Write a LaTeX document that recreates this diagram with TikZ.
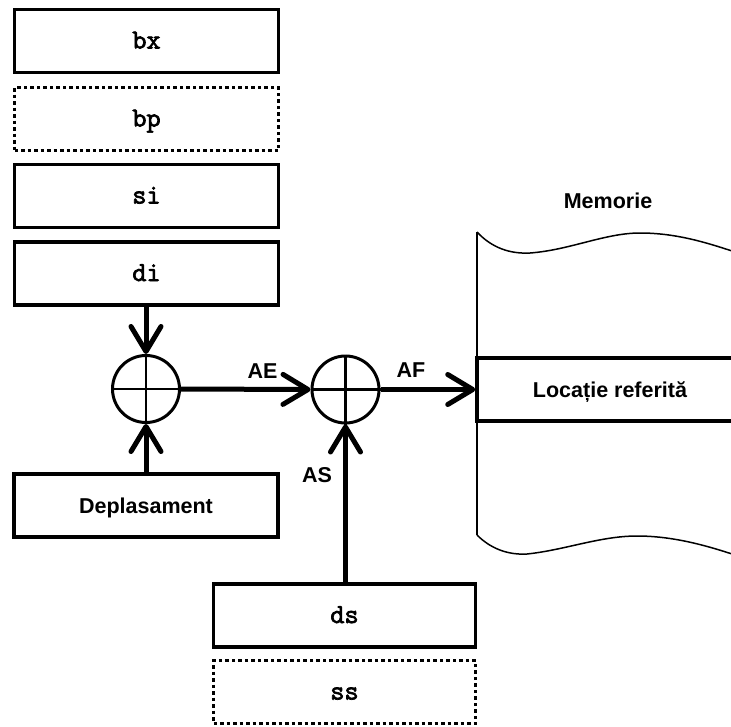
\documentclass[tikz,border=0pt]{standalone}
\usepackage{fontspec}
\setmainfont{Liberation Sans}
\newfontfamily\regfont[FakeBold=2.6]{Latin Modern Mono}
\usetikzlibrary{arrows.meta}
\begin{document}
\begin{tikzpicture}[x=1pt,y=-1pt,
  regbox/.style={draw, line width=3.5pt, minimum width=264pt, minimum height=63pt,
    inner sep=0pt, text height=15pt, text depth=0pt,
    font=\regfont\fontsize{27.5}{30}\selectfont},
  dotbox/.style={regbox, dash pattern=on 3.5pt off 3pt},
  namebox/.style={draw, fill=white, line width=3.5pt, minimum width=264pt, minimum height=63pt,
    inner sep=0pt, text height=15.5pt, text depth=0pt,
    font=\bfseries\fontsize{21.5}{24}\selectfont},
  sumnode/.style={draw, circle, line width=3pt, minimum size=67pt, inner sep=0pt},
  cross/.style={line width=2.5pt},
  tag/.style={inner sep=0pt, text height=15.5pt, text depth=0pt,
    font=\bfseries\fontsize{21.5}{24}\selectfont},
  bus/.style={line width=5pt, -{Straight Barb[length=25pt,width=30pt,round]}},
]
\clip (0,0) rectangle (731,726);

% memory strip with torn top and bottom edges
\draw[line width=2.3pt] (477,232) -- (477,535);
\draw[line width=1.5pt] (477,232) .. controls (492,248) and (510,254) .. (530,253)
  .. controls (570,250) and (605,233) .. (640,233)
  .. controls (675,233) and (705,242) .. (735,252);
\draw[line width=1.5pt] (477,535) .. controls (492,550) and (510,555) .. (527,554)
  .. controls (565,550) and (600,536) .. (637,536)
  .. controls (672,536) and (705,545) .. (735,555);
\node[tag] (mem) at (608,201) {Memorie};
\node[namebox, minimum width=266pt] (loc) at (610,389.5) {Locație referită};

% base and index registers
\node[regbox]  (bx) at (146.5,41)    {bx};
\node[dotbox]  (bp) at (146.5,119)   {bp};
\node[regbox]  (si) at (146.5,196)   {si};
\node[regbox]  (di) at (146.5,273.5) {di};

% displacement
\node[namebox] (dep) at (146,505.5) {Deplasament};

% segment registers
\node[regbox, minimum width=262pt] (ds) at (344.5,615.5) {ds};
\node[dotbox, minimum width=262pt] (ss) at (344.5,692)   {ss};

% adders
\node[sumnode] (c1) at (146,389) {};
\node[sumnode] (c2) at (345.5,389.5) {};
\draw[cross] (c1.north) -- (c1.south) (c1.west) -- (c1.east);
\draw[cross] (c2.north) -- (c2.south) (c2.west) -- (c2.east);

% address paths
\draw[bus] (c1 |- di.south) -- (c1.north);
\draw[bus] (c1 |- dep.north) -- (c1.south);
\draw[bus] (c1.east) -- (c2.west);
\draw[bus] (c2.east) -- (c2.east -| loc.west);
\draw[bus] (c2 |- ds.north) -- (c2.south);

\node[tag] (ae) at (262.5,371) {AE};
\node[tag] (af) at (411,370) {AF};
\node[tag] (as) at (317,475) {AS};
\end{tikzpicture}
\end{document}
